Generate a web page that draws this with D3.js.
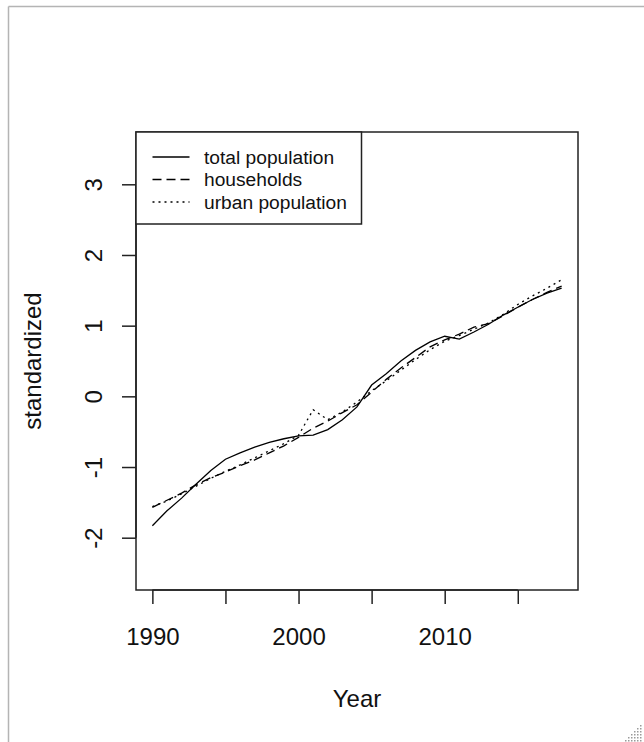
<!DOCTYPE html>
<html>
<head>
<meta charset="utf-8">
<script src="https://cdn.jsdelivr.net/npm/d3@7"></script>
<style>
  html, body { margin: 0; padding: 0; background: #fff; }
  svg { display: block; }
  text { font-family: "Liberation Sans", Arial, sans-serif; fill: #111; }
</style>
</head>
<body>
<svg id="chart" width="644" height="742"></svg>
<script>
// Standardized series, one value per year
const years = d3.range(1990, 2019);
const totalPopulation = [
  -1.83, -1.62, -1.44, -1.24, -1.05, -0.89, -0.80, -0.72, -0.65, -0.60,
  -0.56, -0.55, -0.47, -0.33, -0.15, 0.16, 0.32, 0.50, 0.65, 0.77,
  0.85, 0.81, 0.91, 1.02, 1.15, 1.26, 1.37, 1.46, 1.53
];
const households = [
  -1.57, -1.47, -1.37, -1.25, -1.15, -1.07, -0.98, -0.90, -0.80, -0.70,
  -0.58, -0.45, -0.35, -0.23, -0.12, 0.06, 0.24, 0.40, 0.55, 0.70,
  0.80, 0.88, 0.98, 1.03, 1.14, 1.26, 1.37, 1.47, 1.56
];
const urbanPopulation = [
  -1.56, -1.48, -1.38, -1.27, -1.16, -1.06, -0.97, -0.87, -0.77, -0.67,
  -0.55, -0.19, -0.33, -0.22, -0.08, 0.08, 0.22, 0.37, 0.52, 0.66,
  0.78, 0.86, 0.95, 1.04, 1.16, 1.30, 1.42, 1.53, 1.65
];
const xTicks = [1990, 1995, 2000, 2005, 2010, 2015];
const xTickLabels = ["1990", "", "2000", "", "2010", ""];
const yTicks = [-2, -1, 0, 1, 2, 3];
const yTickLabels = ["-2", "-1", "0", "1", "2", "3"];
const seriesNames = ["total population", "households", "urban population"];
const seriesDash = [null, "9 5", "2 4"];

const svg = d3.select("#chart");

// window frame
svg.append("line").attr("x1", 8.5).attr("x2", 644).attr("y1", 6.5).attr("y2", 6.5)
  .attr("stroke", "#b4b4b4").attr("stroke-width", 1.5);
svg.append("line").attr("x1", 8.5).attr("x2", 8.5).attr("y1", 6.5).attr("y2", 742)
  .attr("stroke", "#b4b4b4").attr("stroke-width", 1.5);

// resize grip
const grip = svg.append("g").attr("fill", "#9a9a9a");
for (let r = 0; r < 6; r++) {
  for (let c = 0; c <= r; c++) {
    grip.append("rect")
      .attr("x", 640 - c * 3).attr("y", 740 - (5 - r) * 3 - 0)
      .attr("width", 1.5).attr("height", 1.5);
  }
}

const box = { left: 136, right: 578, top: 132, bottom: 590 };

// R-style axis extension: 4% on each side
const xExt = (2018 - 1990) * 0.04;
const x = d3.scaleLinear().domain([1990 - xExt, 2018 + xExt]).range([box.left, box.right]);
const yExt = (3.5 - (-2.5)) * 0.04;
const y = d3.scaleLinear().domain([-2.5 - yExt, 3.5 + yExt]).range([box.bottom, box.top]);

const axisColor = "#222";

// series lines
const line = d3.line().x((d, i) => x(years[i])).y(d => y(d));
[totalPopulation, households, urbanPopulation].forEach((s, k) => {
  svg.append("path").datum(s)
    .attr("d", line)
    .attr("fill", "none")
    .attr("stroke", "#000")
    .attr("stroke-width", 1.3)
    .attr("stroke-dasharray", seriesDash[k]);
});

// plot box
svg.append("rect")
  .attr("x", box.left).attr("y", box.top)
  .attr("width", box.right - box.left).attr("height", box.bottom - box.top)
  .attr("fill", "none").attr("stroke", axisColor).attr("stroke-width", 1.5);

// x axis
const xAxis = d3.axisBottom(x).tickValues(xTicks).tickSize(14).tickSizeOuter(0)
  .tickFormat((d, i) => xTickLabels[i]);
const gx = svg.append("g").attr("transform", `translate(0,${box.bottom})`).call(xAxis);
gx.select(".domain").attr("d", `M${x(1990)},0H${x(2015)}`).attr("stroke", axisColor).attr("stroke-width", 1.5);
gx.selectAll(".tick line").attr("stroke", axisColor).attr("stroke-width", 1.5);
gx.selectAll(".tick text").attr("y", 55).attr("dy", null)
  .style("font-size", "24px").style("font-family", "Liberation Sans, Arial, sans-serif").attr("fill", "#111");

// y axis (plain hyphen for negatives)
const yAxis = d3.axisLeft(y).tickValues(yTicks).tickSize(14).tickSizeOuter(0)
  .tickFormat((d, i) => yTickLabels[i]);
const gy = svg.append("g").attr("transform", `translate(${box.left},0)`).call(yAxis);
gy.select(".domain").attr("d", `M0,${y(-2)}V${y(3)}`).attr("stroke", axisColor).attr("stroke-width", 1.5);
gy.selectAll(".tick line").attr("stroke", axisColor).attr("stroke-width", 1.5);
gy.selectAll(".tick text")
  .attr("x", null).attr("dy", null)
  .attr("transform", "translate(-34,0) rotate(-90)")
  .attr("text-anchor", "middle")
  .style("font-size", "24px").style("font-family", "Liberation Sans, Arial, sans-serif").attr("fill", "#111");

// axis titles
svg.append("text").attr("x", (box.left + box.right) / 2).attr("y", 707)
  .attr("text-anchor", "middle").style("font-size", "24px").text("Year");
svg.append("text")
  .attr("transform", `translate(41,${(box.top + box.bottom) / 2}) rotate(-90)`)
  .attr("text-anchor", "middle").style("font-size", "24px").text("standardized");

// legend
const lg = svg.append("g");
lg.append("rect").attr("x", box.left).attr("y", box.top)
  .attr("width", 361.5 - box.left).attr("height", 224 - box.top)
  .attr("fill", "#fff").attr("stroke", axisColor).attr("stroke-width", 1.5);
const rowY = [157, 179.5, 202];
seriesNames.forEach((name, k) => {
  lg.append("line").attr("x1", 152.5).attr("x2", 189.5).attr("y1", rowY[k]).attr("y2", rowY[k])
    .attr("stroke", "#000").attr("stroke-width", 1.3).attr("stroke-dasharray", seriesDash[k]);
  lg.append("text").attr("x", 204).attr("y", rowY[k] + 6.5)
    .style("font-size", "19.2px").text(name);
});
</script>
</body>
</html>
